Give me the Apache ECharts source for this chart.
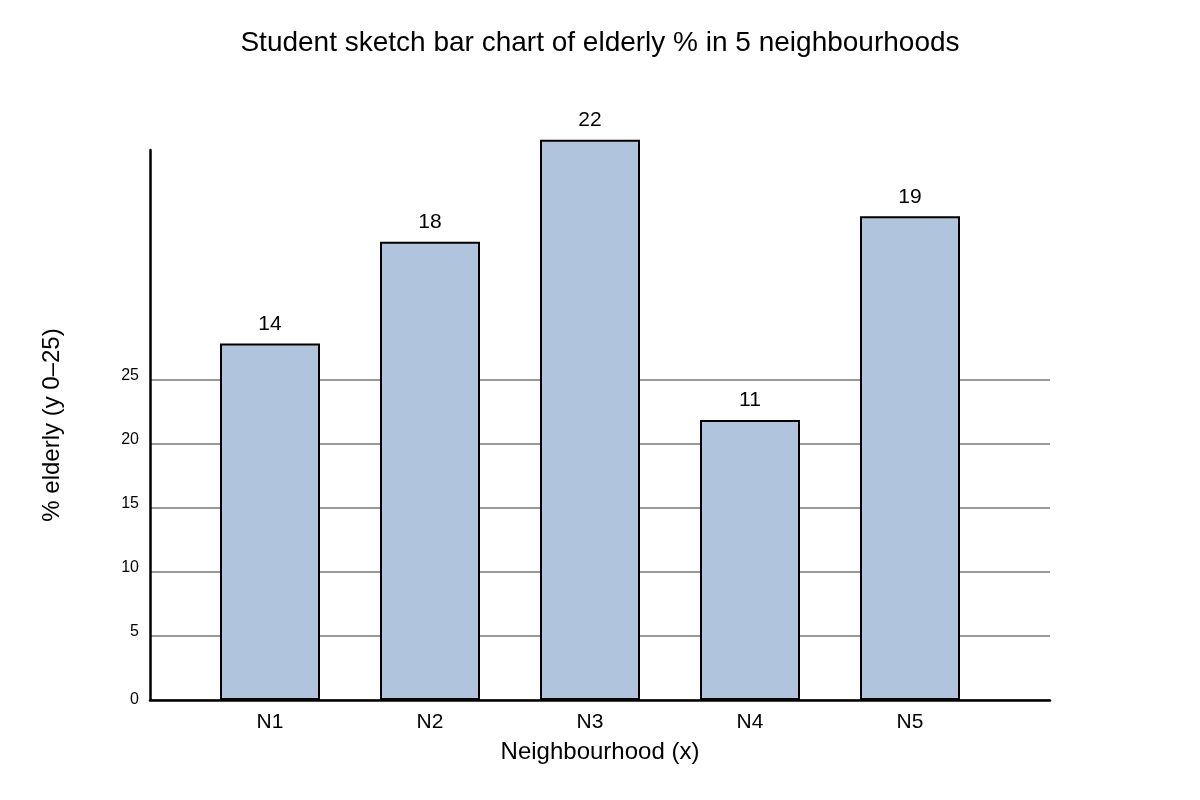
<!DOCTYPE html>
<html>
<head>
    <meta charset="UTF-8">
    <title>Elderly % by neighbourhood</title>
    <script type="text/javascript" src="https://cdn.jsdelivr.net/npm/echarts@6/dist/echarts.min.js"></script>
    <style>
        html, body { margin: 0; padding: 0; background: #fff; }
        #view { width: 1200px; height: 800px; }
    </style>
</head>
<body>
<div id="view"></div>
<script type="text/javascript">
    // data
    var neighbourhoods = ['N1', 'N2', 'N3', 'N4', 'N5'];
    var elderlyPct = [14, 18, 22, 11, 19];
    // the sketch's y ticks (drawn on their own scale, not the bars' scale)
    var tickMin = 0;
    var tickMax = 25;
    var tickStep = 5;

    var font = 'Liberation Sans, Arial, sans-serif';
    var myChart = echarts.init(document.getElementById('view'));

    var option = {
        backgroundColor: '#fff',
        animation: false,
        title: {
            text: 'Student sketch bar chart of elderly % in 5 neighbourhoods',
            left: 'center',
            top: 24,
            textStyle: { fontFamily: font, fontSize: 28, fontWeight: 'normal', color: '#000' }
        },
        grid: [
            // 0: the hand-drawn axes (lines only, plus the "0" label)
            { left: 150, right: 150, top: 150, bottom: 100 },
            // 1: tick labels and grid lines, 5..25
            { left: 150, right: 150, top: 380, bottom: 100 },
            // 2: the bars
            { left: 190, right: 210, top: 150, bottom: 100 }
        ],
        xAxis: [
            {
                gridIndex: 0, type: 'value', min: 0, max: 1,
                name: 'Neighbourhood (x)', nameLocation: 'middle', nameGap: 40,
                nameTextStyle: { fontFamily: font, fontSize: 24, color: '#000' },
                axisLine: { show: true, lineStyle: { color: '#000', width: 2.5 } },
                axisTick: { show: false }, axisLabel: { show: false }, splitLine: { show: false },
                z: 5
            },
            {
                gridIndex: 1, type: 'value', min: 0, max: 1, show: false
            },
            {
                gridIndex: 2, type: 'category', data: neighbourhoods,
                axisLine: { show: false }, axisTick: { show: false }, splitLine: { show: false },
                axisLabel: { fontFamily: font, fontSize: 21, color: '#000', margin: 12 }
            }
        ],
        yAxis: [
            {
                gridIndex: 0, type: 'value', min: 0, max: 1, interval: 1,
                name: '% elderly (y 0\u201325)', nameLocation: 'middle', nameGap: 86, nameRotate: 90,
                nameTextStyle: { fontFamily: font, fontSize: 24, color: '#000' },
                axisLine: { show: true, lineStyle: { color: '#000', width: 2.5 } },
                axisTick: { show: false }, splitLine: { show: false },
                axisLabel: {
                    fontFamily: font, fontSize: 16, color: '#000', margin: 11,
                    formatter: function (v) { return v === tickMin ? String(v) : ''; }
                },
                z: 5
            },
            {
                gridIndex: 1, type: 'value', min: tickMin, max: tickMax, interval: tickStep,
                axisLine: { show: false }, axisTick: { show: false },
                axisLabel: {
                    fontFamily: font, fontSize: 16, color: '#000', margin: 11,
                    verticalAlign: 'bottom', lineHeight: 9,
                    formatter: function (v) { return v === tickMin ? '' : String(v); }
                },
                splitLine: { show: true, lineStyle: { color: '#777', width: 1.5 } }
            },
            {
                gridIndex: 2, type: 'value', min: 0, max: 21.6, show: false
            }
        ],
        series: [
            {
                type: 'bar',
                xAxisIndex: 2,
                yAxisIndex: 2,
                data: elderlyPct,
                barWidth: 100,
                clip: false,
                z: 3,
                itemStyle: { color: '#b0c4de', borderColor: '#000', borderWidth: 2 },
                label: {
                    show: true, position: 'top', distance: 9,
                    fontFamily: font, fontSize: 21, color: '#000'
                }
            }
        ]
    };
    myChart.setOption(option);
</script>
</body>
</html>
